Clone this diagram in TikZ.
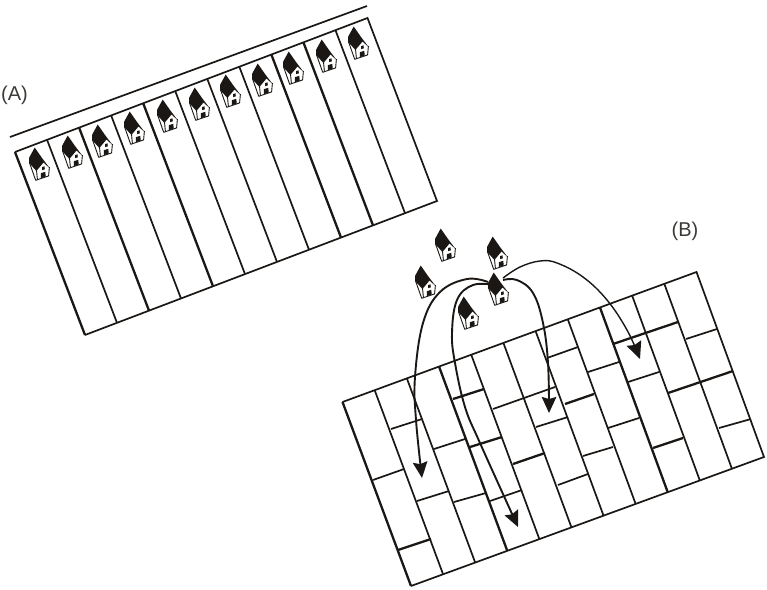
\documentclass[tikz,border=0pt]{standalone}
\usepackage{fontspec}
\setmainfont{Liberation Sans}
\usetikzlibrary{calc,arrows.meta}
\definecolor{ink}{HTML}{1A1714}
\tikzset{
  thinl/.style={draw=ink,line width=1.7pt},
  thickl/.style={draw=ink,line width=2.3pt},
  route/.style={draw=ink,line width=1.9pt,-{Stealth[length=16pt,width=14.5pt,inset=2pt]}},
  routethin/.style={draw=ink,line width=1.4pt,-{Stealth[length=17pt,width=15.5pt,inset=2pt]}},
  lab/.style={font=\fontsize{20}{22}\selectfont,text=ink!85,inner sep=0pt},
  pics/hut/.style={code={
    \fill[white] (-4.3,-17) -- (-10.5,-6) -- (-10.2,-1) -- (-3.3,17) -- (10,12.5) -- (11,3) -- cycle;
    \draw[ink,line width=0.9pt,line join=round] (-9.6,-1.5) -- (-3.3,16.3) -- (9.6,11.9) -- (10.4,3);
    \draw[ink,line width=0.9pt] (-2.6,5) -- (-1.6,15.5);
    \fill[ink] (-4.3,-16.5) -- (-10,-6) -- (-9.8,-1) -- (-2.6,7) -- (4.5,-1.5) -- (11,4.5) -- (3,-6) -- cycle;
    \fill[ink] (1.8,14.2) -- (6.6,12.7) -- (6.4,7.8) -- (1.8,9.2) -- cycle;
    \fill[ink] (3,6.2) -- (5.8,5.3) -- (5.6,2.4) -- (3,3) -- cycle;
  }}
}
\begin{document}
\begin{tikzpicture}[x=1pt,y=-1pt]
\useasboundingbox (0,0) rectangle (767,589);
% panel A
\coordinate (AL) at (10,137);
\coordinate (AR) at (367,6);
\coordinate (a1) at (15,152);
\coordinate (a2) at (367.5,18);
\coordinate (a3) at (437,201);
\coordinate (a4) at (85,335);
\draw[thinl] (AL) -- (AR);
\draw[thinl,line join=miter] (a1) -- (a2) -- (a3) -- (a4);
\draw[thickl] (a4) -- (a1);
\foreach \k in {1,3,5,6,7,10}
  \draw[thinl] ($(a1)!{\k/11}!(a2)$) -- ($(a4)!{\k/11}!(a3)$);
\foreach \k in {2,4,8,9}
  \draw[thickl] ($(a1)!{\k/11}!(a2)$) -- ($(a4)!{\k/11}!(a3)$);
\foreach \x/\y in {39/164,72/152,102/141,134/128,167/116,199/104,230/91,262/80,293/68,326/56,358/43}
  \pic at (\x,\y) {hut};
% panel B
\coordinate (b1) at (342.5,402);
\coordinate (b2) at (696.5,272);
\coordinate (b3) at (764,457);
\coordinate (b4) at (411,586);
\draw[thinl,line join=miter] (b1) -- (b2) -- (b3) -- (b4);
\draw[thickl] (b4) -- (b1);
\foreach \k in {1,2,4,5,6,7,9,10}
  \draw[thinl] ($(b1)!{\k/11}!(b2)$) -- ($(b4)!{\k/11}!(b3)$);
\foreach \k in {3,8}
  \draw[thickl] ($(b1)!{\k/11}!(b2)$) -- ($(b4)!{\k/11}!(b3)$);
\foreach \xa/\ya/\xb/\yb in {373/480/404/469, 391/429/422/419, 417/501/449/491, 434/449/465/439,
   454/502/486/493, 490/501/522/490, 493/409/555/387, 536/427/568/417, 547/358/578/347,
   558/485/588/474, 583/456/613/447, 588/372/619/362, 608/428/639/418, 628/382/659/372,
   686/339/717/329, 719/428/751/419}
  \draw[thinl] (\xa,\ya) -- (\xb,\yb);
\foreach \xa/\ya/\xb/\yb in {398/550/431/539, 453/399/484/389, 470/447/502/437, 513/464/545/453,
   565/404/594/394, 613/344/678/322, 653/448/683/438, 668/393/733/371}
  \draw[thickl] (\xa,\ya) -- (\xb,\yb);
% houses B
\foreach \x/\y in {445/245,497/253,425/282,468/313,498/289}
  \pic at (\x,\y) {hut};
% arrows
\draw[route] plot[smooth,tension=0.65] coordinates {(488,282) (467,279) (440,292) (423,323) (415,377) (416,420) (422,478)};
\draw[route] plot[smooth,tension=0.65] coordinates {(495,285) (473,285) (457,300) (452,333) (455,363) (465,407) (480,443) (518,527)};
\draw[route] plot[smooth,tension=0.65] coordinates {(503,280) (517,280) (533,293) (543,323) (548,363) (549,413)};
\draw[routethin] plot[smooth,tension=0.65] coordinates {(503,278) (520,267) (540,261) (557,263) (583,277) (607,300) (627,330) (640,359)};
% labels
\node[lab] (la) at (14.5,95.5) {(A)};
\node[lab] (lb) at (685,231.5) {(B)};
\end{tikzpicture}
\end{document}
